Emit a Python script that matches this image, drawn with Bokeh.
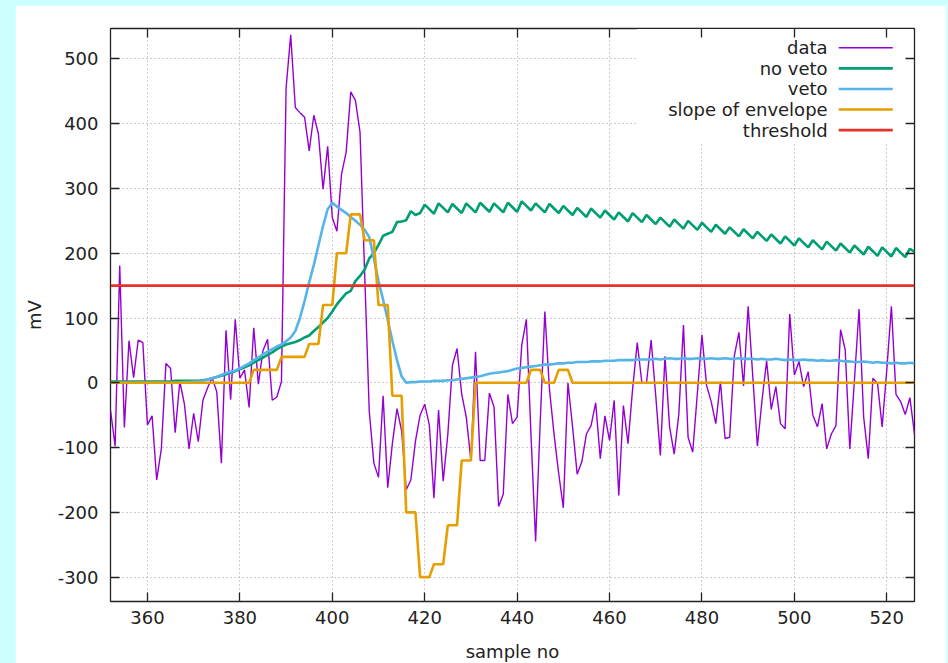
from bokeh.plotting import figure
from bokeh.models import Range1d, FixedTicker, LinearAxis, Label, BoxAnnotation, Arrow
from bokeh.embed import file_html
from bokeh.resources import INLINE

# sample index (x axis)
samples = list(range(352, 527))

# raw trace, mV
data = [
    -42, -98, 181, -69, 65, 8, 66, 62, -65, -51,
    -150, -102, 30, 22, -77, 2, -33, -102, -47, -91,
    -27, -8, 8, -14, -124, 81, -26, 98, 7, 20,
    -38, 85, -2, 50, 67, -27, -22, 2, 455, 537,
    425, 417, 410, 358, 413, 384, 299, 365, 255, 234,
    322, 356, 449, 436, 387, 170, -44, -124, -146, -20,
    -162, -94, -40, -74, -165, -150, -90, -50, -33, -65,
    -178, -42, -152, -80, 27, 53, -17, -53, -120, 48,
    -120, -120, -16, -37, -191, -172, -18, -63, -53, 58,
    98, -80, -245, -60, 110, -10, -80, -140, -193, 0,
    -68, -141, -122, -79, -66, -31, -117, -51, -89, -27,
    -174, -35, -94, -9, 62, 0, 0, 66, -20, -112,
    41, -68, -110, -48, 89, -84, -107, -17, 74, -4,
    -29, -63, 2, -86, -84, 41, 78, -5, 118, 10,
    -98, -27, 34, -41, -6, -63, -71, 106, 12, 33,
    -6, 17, -50, -68, -32, -102, -79, -66, 82, 51,
    -102, 4, 114, -53, -117, 7, -1, -68, 20, 118,
    -18, -29, -49, -23, -79,
]

# envelope without veto
no_veto = [
    2, 2, 2, 2, 2, 2, 2, 2, 2, 2,
    2, 2, 2, 2, 3, 3, 3, 3, 3, 3,
    4, 5, 7, 9, 11, 13, 16, 18, 21, 24,
    27, 31, 35, 39, 43, 47, 52, 56, 59, 61,
    63, 66, 70, 73, 80, 86, 93, 100, 110, 121,
    130, 138, 142, 157, 165, 175, 192, 200, 213, 227,
    230, 233, 248, 249, 251, 265, 259, 262, 275, 268,
    261, 277, 270, 263, 276, 269, 262, 277, 270, 263,
    278, 271, 264, 277, 270, 263, 278, 271, 264, 280,
    273, 266, 277, 270, 263, 276, 269, 262, 273, 266,
    259, 270, 263, 256, 269, 262, 255, 266, 259, 252,
    263, 256, 249, 262, 255, 248, 259, 252, 245, 255,
    248, 241, 252, 245, 238, 250, 243, 236, 247, 240,
    233, 244, 237, 230, 240, 233, 226, 237, 230, 223,
    233, 226, 219, 229, 222, 215, 226, 219, 212, 223,
    216, 209, 220, 213, 206, 218, 211, 204, 215, 208,
    201, 212, 205, 198, 210, 203, 196, 209, 202, 195,
    208, 201, 194, 207, 202,
]

# envelope with veto
veto = [
    0, 0, 0, 0, 0, 0, 0, 0, 0, 0,
    0, 0, 0, 0, 0, 0, 1, 1, 2, 2,
    3, 5, 7, 9, 12, 15, 17, 19, 22, 26,
    30, 35, 39, 44, 48, 52, 56, 59, 64, 70,
    80, 100, 126, 155, 182, 212, 242, 268, 278, 272,
    267, 262, 256, 250, 244, 236, 225, 192, 157, 128,
    97, 65, 35, 10, 0, 1, 1, 2, 2, 2,
    3, 3, 3, 4, 4, 5, 6, 7, 8, 9,
    10, 12, 14, 15, 16, 17, 18, 20, 22, 23,
    24, 25, 26, 27, 28, 28, 29, 30, 30, 31,
    31, 32, 32, 32, 33, 33, 33, 34, 34, 34,
    35, 35, 35, 35, 36, 36, 36, 36, 37, 36,
    37, 38, 37, 37, 38, 37, 37, 38, 37, 37,
    38, 37, 37, 38, 37, 37, 38, 37, 37, 37,
    36, 37, 36, 36, 37, 36, 35, 36, 35, 35,
    36, 35, 35, 34, 35, 34, 34, 35, 34, 33,
    33, 32, 32, 33, 32, 31, 32, 31, 31, 30,
    31, 30, 30, 31, 30,
]

# slope of the envelope
slope = [
    0, 0, 0, 0, 0, 0, 0, 0, 0, 0,
    0, 0, 0, 0, 0, 0, 0, 0, 0, 0,
    0, 0, 0, 0, 0, 0, 0, 0, 0, 0,
    0, 20, 20, 20, 20, 20, 20, 40, 40, 40,
    40, 40, 40, 60, 60, 60, 120, 120, 120, 200,
    200, 200, 260, 260, 260, 220, 220, 220, 120, 120,
    120, -20, -20, -20, -200, -200, -200, -300, -300, -300,
    -280, -280, -280, -220, -220, -220, -120, -120, -120, 0,
    0, 0, 0, 0, 0, 0, 0, 0, 0, 0,
    0, 20, 20, 20, 0, 0, 0, 20, 20, 20,
    0, 0, 0, 0, 0, 0, 0, 0, 0, 0,
    0, 0, 0, 0, 0, 0, 0, 0, 0, 0,
    0, 0, 0, 0, 0, 0, 0, 0, 0, 0,
    0, 0, 0, 0, 0, 0, 0, 0, 0, 0,
    0, 0, 0, 0, 0, 0, 0, 0, 0, 0,
    0, 0, 0, 0, 0, 0, 0, 0, 0, 0,
    0, 0, 0, 0, 0, 0, 0, 0, 0, 0,
    0, 0, 0, 0, 0,
]

threshold_level = 150
threshold = [threshold_level for _ in samples]

x_ticks = [360, 380, 400, 420, 440, 460, 480, 500, 520]
y_ticks = [-300, -200, -100, 0, 100, 200, 300, 400, 500]

series = [
    ("data", data, "#9400d3", 1.4),
    ("no veto", no_veto, "#009e73", 2.6),
    ("veto", veto, "#56b4e9", 2.6),
    ("slope of envelope", slope, "#e69f00", 2.6),
    ("threshold", threshold, "#e8302a", 2.6),
]

FONT = "DejaVu Sans"
FSIZE = "18px"
INK = "#222222"

p = figure(
    width=931, height=668,
    x_range=Range1d(352, 526), y_range=Range1d(-337.6, 546.9),
    output_backend="svg", toolbar_location=None,
    min_border_left=95, min_border_right=32,
    min_border_top=23, min_border_bottom=72,
    background_fill_color="white", border_fill_color="white",
)
p.margin = (5, 2, 0, 15)
p.outline_line_color = INK
p.outline_line_width = 1.3

# main axes (plain hyphen for negative numbers)
p.xaxis.ticker = FixedTicker(ticks=x_ticks)
p.yaxis.ticker = FixedTicker(ticks=y_ticks)
p.xaxis.major_label_overrides = {t: str(t) for t in x_ticks}
p.yaxis.major_label_overrides = {t: str(t) for t in y_ticks}
p.xaxis.axis_label = "sample no"
p.yaxis.axis_label = "mV"
for ax in (p.xaxis[0], p.yaxis[0]):
    ax.axis_line_color = None
    ax.major_tick_in = 9
    ax.major_tick_out = 0
    ax.major_tick_line_color = INK
    ax.major_tick_line_width = 1.3
    ax.minor_tick_line_color = None
    ax.major_label_text_font = FONT
    ax.major_label_text_font_size = FSIZE
    ax.major_label_text_color = INK
    ax.axis_label_text_font = FONT
    ax.axis_label_text_font_size = FSIZE
    ax.axis_label_text_font_style = "normal"
    ax.axis_label_text_color = INK
p.xaxis.major_label_standoff = 9
p.xaxis.axis_label_standoff = 14
p.yaxis.major_label_standoff = 12
p.yaxis.axis_label_standoff = 10

# mirrored ticks on top and right, without labels
for side, ticks in (("above", x_ticks), ("right", y_ticks)):
    mirror = LinearAxis(
        ticker=FixedTicker(ticks=ticks),
        axis_line_color=None,
        major_tick_in=9, major_tick_out=0,
        major_tick_line_color=INK, major_tick_line_width=1.3,
        minor_tick_line_color=None,
        major_label_overrides={t: "" for t in ticks},
        major_label_standoff=0,
    )
    p.add_layout(mirror, side)

# dotted grid
for g, ticks in ((p.xgrid, x_ticks), (p.ygrid, y_ticks)):
    g.ticker = FixedTicker(ticks=ticks)
    g.grid_line_color = "#9a9a9a"
    g.grid_line_dash = "1 3"
    g.grid_line_width = 1

for name, values, color, width in series:
    p.line(samples, values, line_color=color, line_width=width)

# key in the upper right corner: text on the left, line sample on the right
key_bg = BoxAnnotation(left=465.9, right=525.7, bottom=369.7, top=546.0,
                       fill_color="white", fill_alpha=1.0, line_color=None,
                       level="underlay")
p.add_layout(key_bg)
key_rows = [517.2, 485.4, 453.6, 421.8, 390.0]
for (name, values, color, width), ky in zip(series, key_rows):
    p.add_layout(Label(x=507.2, y=ky, text=name, text_align="right",
                       text_baseline="middle", text_font=FONT,
                       text_font_size=FSIZE, text_color=INK))
    p.add_layout(Arrow(start=None, end=None, x_start=509.6, y_start=ky,
                       x_end=521.3, y_end=ky, line_color=color,
                       line_width=width))

html = file_html(p, INLINE, title="envelope")
html = html.replace(
    "<head>",
    "<head><style>html,body{margin:0;padding:0;overflow:hidden;"
    "background:#ccffff;}</style>",
    1,
)
with open("out.html", "w") as f:
    f.write(html)
